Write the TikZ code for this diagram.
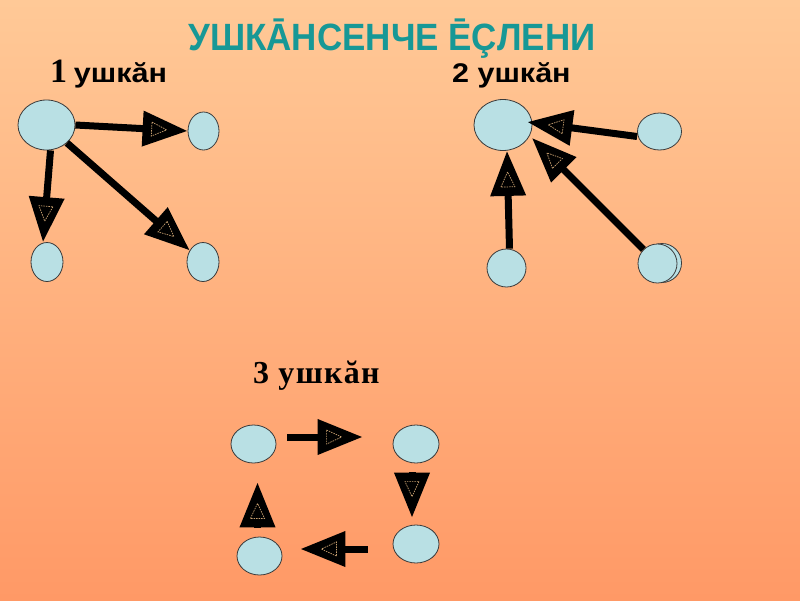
\documentclass[tikz,border=0pt]{standalone}
\usepackage{fontspec}
\setmainfont{Liberation Serif}
\newfontfamily\sansf{Liberation Sans}
\newfontfamily\sansw[FakeStretch=1.13]{Liberation Sans}
\newfontfamily\titlef[FakeStretch=0.92]{Liberation Sans}
\newfontfamily\serifw[LetterSpace=4]{Liberation Serif}
\usetikzlibrary{arrows.meta,decorations.markings,shapes.geometric}
\definecolor{bgtop}{HTML}{FFC997}
\definecolor{bgbot}{HTML}{FF9966}
\definecolor{titlec}{HTML}{179896}
\definecolor{nodefill}{HTML}{B9E0E4}
\definecolor{nodeline}{HTML}{3A3A3A}
\definecolor{innerc}{HTML}{C8A070}
\tikzset{
  blob/.style={ellipse, draw=nodeline, line width=0.8pt, fill=nodefill, inner sep=0pt, minimum width=#1},
  conn/.style={line width=7pt, -{Triangle[length=45pt,width=34pt]},
    postaction={decorate},
    decoration={markings, mark=at position 1 with {
      \draw[innerc, line width=0.7pt, dash pattern=on 1.5pt off 1pt, line join=miter]
        (-36,-7) -- (-21,0) -- (-36,7) -- cycle;}}},
  lbl/.style={anchor=base west, inner sep=0pt, font=\bfseries\fontsize{27}{30}\selectfont}
}
\begin{document}
\begin{tikzpicture}[x=1pt,y=-1pt]
\useasboundingbox (0,0) rectangle (800,600);
\shade[top color=bgtop, bottom color=bgbot] (0,0) rectangle (800,600);
% title
\node[anchor=base, inner sep=0pt, text=titlec, font=\titlef\bfseries\fontsize{38}{44}\selectfont] (title) at (392,50) {УШКĀНСЕНЧЕ ĒÇЛЕНИ};
% labels
\node[lbl] (l1) at (50,82) {{\fontsize{34}{36}\selectfont 1} {\sansw ушкăн}};
\node[lbl] (l2) at (452,82) {\sansw 2 ушкăн};
\node[lbl, font=\serifw\bfseries\fontsize{32}{36}\selectfont] (l3) at (253,383) {3 ушкăн};
% group 1
\node[blob=57pt, minimum height=50pt] (A) at (46.5,125) {};
\node[blob=31pt, minimum height=38pt] (B) at (203.5,131) {};
\node[blob=32pt, minimum height=39pt] (C) at (47,262) {};
\node[blob=32pt, minimum height=39pt] (D) at (203,262) {};
\draw[conn] (A.east) -- (B.west);
\draw[conn] ([xshift=4]A.south) -- ([xshift=-4]C.north);
\draw[conn] (A) -- (D);
% group 2
\node[blob=58pt, minimum height=51pt] (E) at (503,125) {};
\node[blob=44pt, minimum height=37pt] (F) at (659.5,131.5) {};
\node[blob=39pt, minimum height=38pt] (G) at (506.5,268) {};
\node[blob=39pt, minimum height=39pt] (H2) at (662,263) {};
\node[blob=39pt, minimum height=39pt] (H) at (657.5,263.5) {};
\draw[conn] ([yshift=-5]F.west) -- ([shift={(-5,-3)}]E.east);
\draw[conn] ([xshift=3]G.north) -- ([xshift=4]E.south);
\draw[conn] (H) -- ([shift={(29,13)}]E.center);
% group 3
\node[blob=45pt, minimum height=38pt] (I) at (253.5,444) {};
\node[blob=46pt, minimum height=38pt] (J) at (416,444) {};
\node[blob=46pt, minimum height=38pt] (K) at (416,544) {};
\node[blob=45pt, minimum height=38pt] (L) at (259.5,556) {};
\draw[conn] ([shift={(11,-7)}]I.east) -- ([shift={(-30,-7)}]J.west);
\draw[conn] ([shift={(-4,9)}]J.south) -- ([shift={(-4,-7)}]K.north);
\draw[conn] ([shift={(-25,5)}]K.west) -- ([shift={(18,-7)}]L.east);
\draw[conn] ([shift={(-2,-9)}]L.north) -- ([shift={(4,19)}]I.south);
\end{tikzpicture}
\end{document}
